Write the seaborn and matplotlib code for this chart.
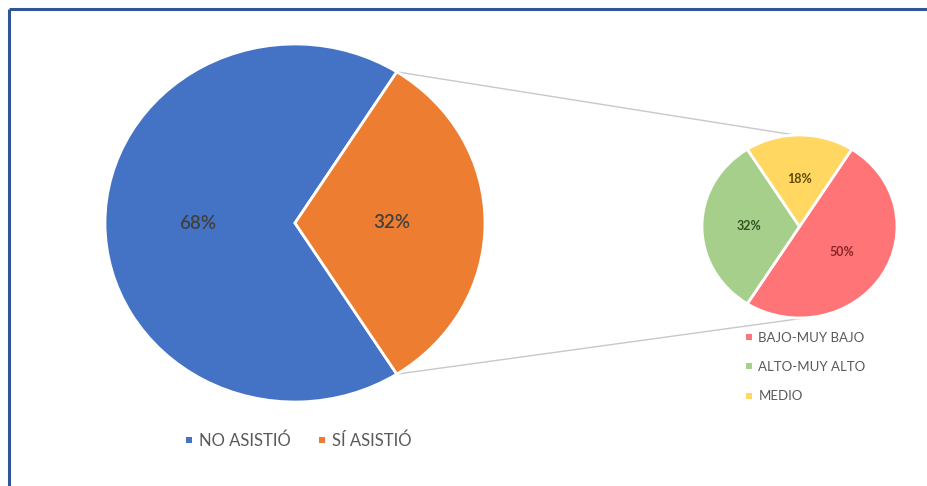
# Pie-of-pie: attendance split, then level breakdown for those who attended

import numpy as np
import matplotlib.pyplot as plt
from matplotlib.lines import Line2D
import seaborn as sns

sns.set_theme(style="white")
plt.rcParams["font.family"] = ["Lato", "DejaVu Sans"]

# data
asist_labels = ["NO ASISTIÓ", "SÍ ASISTIÓ"]
asist_vals = [68, 32]
nivel_labels = ["BAJO-MUY BAJO", "ALTO-MUY ALTO", "MEDIO"]
nivel_vals = [50, 32, 18]

asist_colors = ["#4472C4", "#ED7D31"]
nivel_colors = ["#FF7477", "#A6CF8B", "#FFD761"]
nivel_txt = ["#8A2626", "#34521F", "#5E4A05"]

W, H = 927, 486
fig = plt.figure(figsize=(W / 100, H / 100), dpi=100)

# background axes in pixel coords (frame + connector lines)
bg = fig.add_axes([0, 0, 1, 1])
bg.set_xlim(0, W)
bg.set_ylim(H, 0)
bg.axis("off")
bg.plot([9, W], [9, 9], color="#2F5597", lw=2.2, solid_capstyle="butt")
bg.plot([9, 9], [9, H], color="#2F5597", lw=2.2, solid_capstyle="butt")

# pie boxes (pixels): slightly wider than tall, like the original
c1, r1 = (295, 223), (190, 179)
c2, r2 = (799.5, 226.5), (97.5, 91.5)

def box(c, r):
    return [(c[0] - r[0]) / W, (H - c[1] - r[1]) / H, 2 * r[0] / W, 2 * r[1] / H]

frac = asist_vals[1] / sum(asist_vals)
start = 180 * frac

ax1 = fig.add_axes(box(c1, r1))
w1, _, a1 = ax1.pie(asist_vals, colors=asist_colors, startangle=start,
                    autopct="%d%%", pctdistance=0.51,
                    wedgeprops=dict(edgecolor="white", linewidth=2),
                    textprops=dict(color="#404040", fontsize=13.5, fontweight="semibold"))
ax1.set_aspect("auto")
ax1.set_xlim(-1, 1)
ax1.set_ylim(-1, 1)

ax2 = fig.add_axes(box(c2, r2))
w2, _, a2 = ax2.pie(nivel_vals, colors=nivel_colors, startangle=start,
                    counterclock=False, autopct="%d%%", pctdistance=0.52,
                    wedgeprops=dict(edgecolor="white", linewidth=2),
                    textprops=dict(fontsize=9, fontweight="bold"))
for t, col in zip(a2, nivel_txt):
    t.set_color(col)
ax2.set_aspect("auto")
ax2.set_xlim(-1, 1)
ax2.set_ylim(-1, 1)

# connector lines from the orange wedge edges to the small pie
th = np.deg2rad(start)
for s in (1, -1):
    x0 = c1[0] + r1[0] * np.cos(th)
    y0 = c1[1] - s * r1[1] * np.sin(th)
    x1 = c2[0] - 5 * s
    y1 = c2[1] - s * r2[1]
    bg.plot([x0, x1], [y0, y1], color="#C8C8C8", lw=1)

def square_handles(wedges, size):
    return [Line2D([], [], marker="s", linestyle="none", markersize=size,
                   markerfacecolor=w.get_facecolor(), markeredgewidth=0)
            for w in wedges]

fig.legend(square_handles(w1, 5), asist_labels, loc="center",
           bbox_to_anchor=(298 / W, 1 - 441 / H),
           ncol=2, frameon=False, fontsize=12, labelcolor="#595959",
           handlelength=0.5, handletextpad=0.35, columnspacing=1.6)
fig.legend(square_handles(w2, 4), nivel_labels, loc="upper left",
           bbox_to_anchor=(734 / W, 1 - 320 / H),
           ncol=1, frameon=False, fontsize=9.5, labelcolor="#595959",
           handlelength=0.5, handletextpad=0.45, labelspacing=1.3)

fig.savefig("out.png", dpi=100, facecolor="white")
